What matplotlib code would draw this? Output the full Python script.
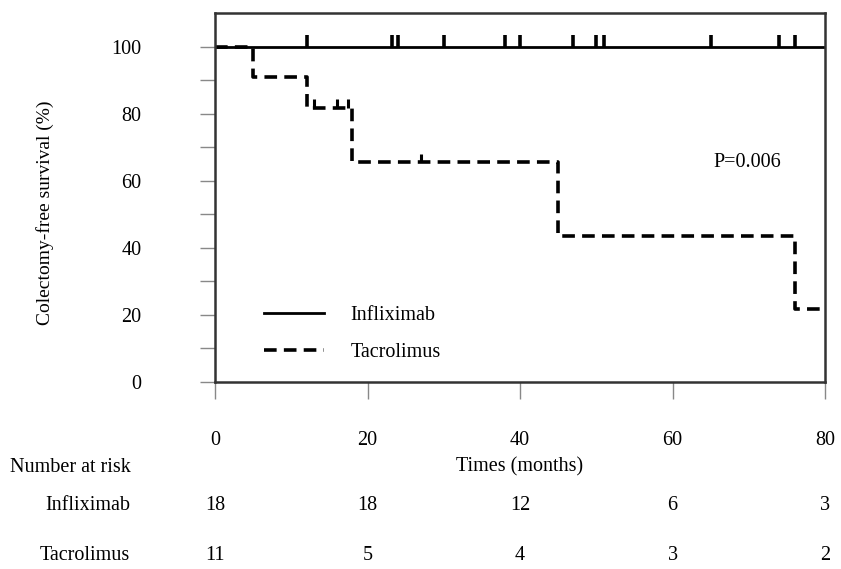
import matplotlib
matplotlib.use("Agg")
import matplotlib.pyplot as plt
from matplotlib.transforms import blended_transform_factory

plt.rcParams['font.family'] = ['Liberation Serif', 'DejaVu Serif']
plt.rcParams['font.size'] = 14.5

# Kaplan-Meier step data (months, %)
tac_time = [0, 5, 12, 18, 45, 76, 80]
tac_surv = [100, 90.9, 81.8, 65.5, 43.6, 21.8, 21.8]
tac_censor_t = [13, 16, 17.5, 27]
tac_censor_s = [81.8, 81.8, 81.8, 65.5]

inf_time = [0, 80]
inf_surv = [100, 100]
inf_censor_t = [12, 23.2, 24, 30, 38, 40, 47, 50, 51, 65, 74, 76]

risk_times = [0, 20, 40, 60, 80]
risk_inf = [18, 18, 12, 6, 3]
risk_tac = [11, 5, 4, 3, 2]

fig = plt.figure(figsize=(8.41, 5.69), dpi=100)
ax = fig.add_axes([0.2557, 0.3287, 0.7253, 0.6483])

ax.step(inf_time, inf_surv, where='post', color='black', lw=2.0, label='Infliximab')
ax.vlines(inf_censor_t, 100, 103.6, color='black', lw=2.6)

ax.step(tac_time, tac_surv, where='post', color='black', lw=2.6,
        linestyle=(0, (3.5, 2)), label='Tacrolimus')
ax.vlines(tac_censor_t, tac_censor_s, [s + 2.5 for s in tac_censor_s], color='black', lw=2.2)

ax.set_xlim(0, 80)
ax.set_ylim(0, 110)
ax.set_xticks(risk_times)
ax.set_yticks(range(0, 101, 20))
ax.set_yticks(range(10, 100, 20), minor=True)
ax.tick_params(axis='y', which='both', direction='out', length=11, width=1, color='#888888', pad=42)
ax.tick_params(axis='x', direction='out', length=12, width=1, color='#888888', pad=23)
for s in ax.spines.values():
    s.set_color('#333333')
    s.set_linewidth(1.8)

ax.set_ylabel('Colectomy-free survival (%)', fontsize=14)
ax.yaxis.set_label_coords(-0.264, 0.458)

ax.text(65.3, 65.4, 'P=0.006', ha='left', va='center')

ax.legend(loc='lower left', bbox_to_anchor=(0.05, 0.005), frameon=False,
          handlelength=3.0, handletextpad=1.3, labelspacing=0.9, fontsize=14.5)

tr = blended_transform_factory(ax.transData, fig.transFigure)
fig.text(0.012, 1 - 467 / 569, 'Number at risk', ha='left', va='center')
ax.text(40, 1 - 467 / 569, 'Times (months)', ha='center', va='center', transform=tr)
fig.text(0.155, 1 - 505 / 569, 'Infliximab', ha='right', va='center')
fig.text(0.155, 1 - 555 / 569, 'Tacrolimus', ha='right', va='center')
for t, a, b in zip(risk_times, risk_inf, risk_tac):
    ax.text(t, 1 - 505 / 569, str(a), ha='center', va='center', transform=tr, clip_on=False)
    ax.text(t, 1 - 555 / 569, str(b), ha='center', va='center', transform=tr, clip_on=False)

fig.savefig('out.png', dpi=100)
